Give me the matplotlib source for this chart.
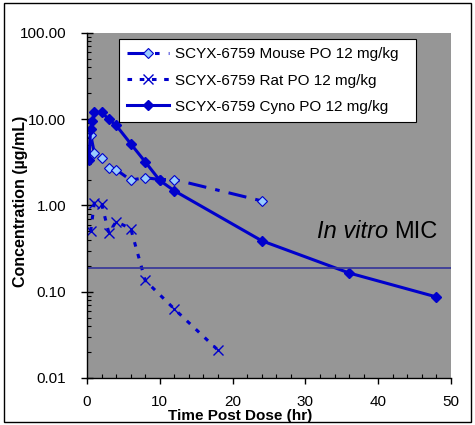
import matplotlib
matplotlib.use("Agg")
import matplotlib.pyplot as plt
import matplotlib.ticker as mticker
import numpy as np

plt.rcParams['font.family'] = ['Liberation Sans', 'DejaVu Sans']

# mouse PO 12 mg/kg
mouse_t = [0.5, 1, 2, 3, 4, 6, 8, 10, 12, 24]
mouse_c = [6.6, 4.1, 3.6, 2.7, 2.6, 1.97, 2.1, 2.0, 2.0, 1.13]
# rat PO 12 mg/kg
rat_t = [0.5, 1, 2, 3, 4, 6, 8, 12, 18]
rat_c = [0.5, 1.07, 1.05, 0.48, 0.65, 0.54, 0.135, 0.063, 0.021]
# cyno PO 12 mg/kg
cyno_t = [0.25, 0.5, 0.75, 1, 2, 3, 4, 6, 8, 10, 12, 24, 36, 48]
cyno_c = [3.35, 7.8, 9.5, 12.0, 12.0, 10.0, 8.5, 5.2, 3.2, 1.95, 1.48, 0.39, 0.165, 0.087]
mic = 0.19

fig = plt.figure(figsize=(4.75, 4.25), dpi=100)
fig.patches.append(plt.Rectangle((0.008, 0.008), 0.984, 0.984, transform=fig.transFigure,
                                 fill=False, edgecolor='black', linewidth=1))
ax = fig.add_axes([0.1832, 0.1106, 0.7663, 0.8118])
ax.set_facecolor('#969696')

blue = '#0000CC'
ax.plot(mouse_t, mouse_c, color=blue, lw=2.2, ls=(0, (6, 3, 1.5, 3)),
        marker='D', ms=5.5, mfc='#99CCFF', mec=blue, mew=0.8,
        label='SCYX-6759 Mouse PO 12 mg/kg')
ax.plot(rat_t, rat_c, color=blue, lw=2.2, ls=(0, (1.5, 2.5)),
        marker='x', ms=7, mec=blue, mew=1.0,
        label='SCYX-6759 Rat PO 12 mg/kg')
ax.plot(cyno_t, cyno_c, color=blue, lw=2.2, ls='-',
        marker='D', ms=5.5, mfc=blue, mec=blue,
        label='SCYX-6759 Cyno PO 12 mg/kg')
ax.axhline(mic, color='#333399', lw=1.2)
t1 = ax.text(31.6, 0.365, 'In vitro', fontsize=17, style='italic', ha='left', va='bottom')
ax.annotate('MIC', xy=(1, 0), xycoords=t1, xytext=(4, 0), textcoords='offset points',
            fontsize=17, ha='left', va='bottom')

ax.set_yscale('log')
ax.set_ylim(0.01, 100)
ax.set_xlim(0, 50)
ax.set_yticks([0.01, 0.1, 1, 10, 100])
ax.yaxis.set_major_formatter(mticker.FormatStrFormatter('%.2f'))
ax.yaxis.set_minor_locator(mticker.LogLocator(base=10, subs=np.arange(2, 10)))
ax.yaxis.set_minor_formatter(mticker.NullFormatter())
ax.set_xticks(np.arange(0, 51, 10))
ax.xaxis.set_minor_locator(mticker.MultipleLocator(2))
ax.tick_params(axis='both', which='major', labelsize=11, width=1, color='black')
ax.tick_params(axis='x', which='major', direction='out', length=4, pad=8)
ax.tick_params(axis='y', which='major', direction='inout', length=8, pad=11)
ax.tick_params(axis='both', which='minor', direction='in', length=3, width=0.8)
for s in ['top', 'right']:
    ax.spines[s].set_visible(False)
for s in ['left', 'bottom']:
    ax.spines[s].set_linewidth(1)

ax.set_xlabel('Time Post Dose (hr)', fontsize=11, fontweight='bold')
ax.set_ylabel('Concentration (\u00b5g/mL)', fontsize=11.5, fontweight='bold')
ax.xaxis.set_label_coords(0.42, -0.089)
ax.yaxis.set_label_coords(-0.161, 0.513)

leg = ax.legend(loc='upper left', bbox_to_anchor=(0.0879, 0.0, 0.816, 0.9826),
                mode='expand', fontsize=11,
                frameon=True, fancybox=False, edgecolor='black', framealpha=1,
                handlelength=2.7, handletextpad=0.4, borderpad=0.55, labelspacing=0.8,
                borderaxespad=0)
leg.get_frame().set_linewidth(0.8)

fig.savefig('out.png', dpi=100)
